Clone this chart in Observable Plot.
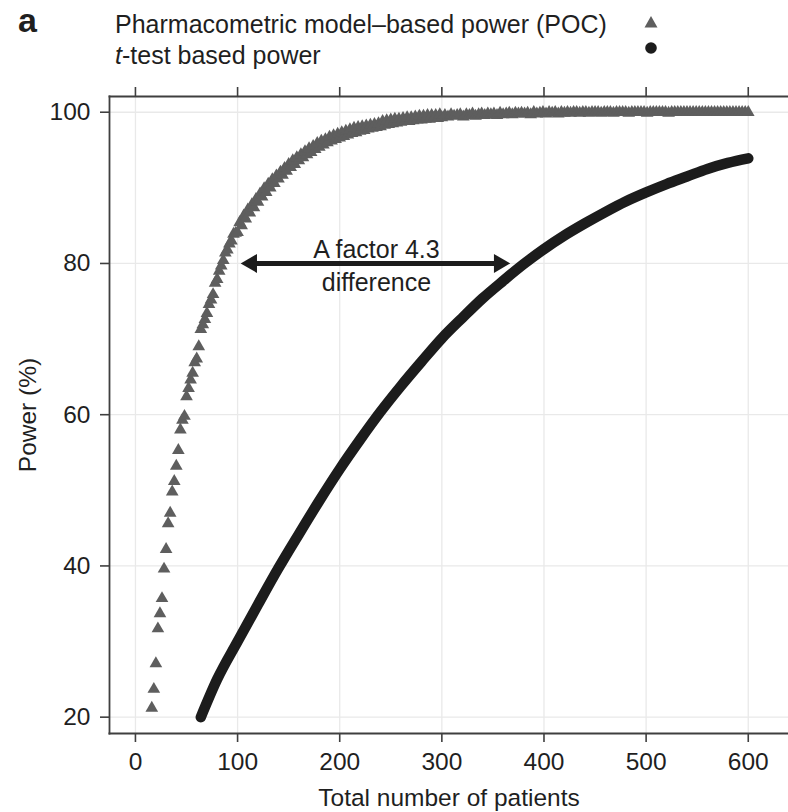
<!DOCTYPE html>
<html>
<head>
<meta charset="utf-8">
<script src="https://cdn.jsdelivr.net/npm/d3@7"></script>
<script src="https://cdn.jsdelivr.net/npm/@observablehq/plot@0.6"></script>
<style>
  html, body { margin: 0; padding: 0; background: #fff; }
  #wrap { position: relative; width: 788px; height: 812px; font-family: "Liberation Sans", Arial, Helvetica, sans-serif; color: #1f1f1f; }
  #legend { position: relative; width: 788px; height: 70px; }
  .lab { position: absolute; white-space: nowrap; line-height: 1; }
  #panel { left: 18px; top: 3px; font-size: 34px; font-weight: bold; }
  #l1 { left: 115px; top: 12px; font-size: 25px; }
  #l2 { left: 115px; top: 43px; font-size: 25px; }
  #sym { position: absolute; left: 640px; top: 12px; }
  #chart svg { display: block; }
</style>
</head>
<body>
<div id="wrap">
  <div id="legend">
    <div class="lab" id="panel">a</div>
    <div class="lab" id="l1">Pharmacometric model–based power (POC)</div>
    <div class="lab" id="l2"><i>t</i>-test based power</div>
    <svg id="sym" width="24" height="46">
      <polygon points="11,4 17.5,15.5 4.5,15.5" fill="#5e5e5e"></polygon>
      <circle cx="11" cy="36" r="5.8" fill="#1c1c1c"></circle>
    </svg>
  </div>
  <div id="chart"></div>
</div>
<script>
// ---- Data ----
const xTicks = [0, 100, 200, 300, 400, 500, 600];
const yTicks = [20, 40, 60, 80, 100];

// Pharmacometric model-based power (POC), triangles
const pocN = [
  16, 18, 20, 22, 24, 26, 28, 30, 32, 34, 36, 38, 40, 42, 44, 46, 48, 50, 52, 54,
  56, 58, 60, 62, 64, 66, 68, 70, 72, 74, 76, 78, 80, 82, 84, 86, 88, 90, 92, 94, 96, 98,
  100, 102, 104, 106, 108, 110, 112, 114, 116, 118, 120, 122, 124, 126, 128, 130, 132, 134, 136, 138,
  140, 142, 144, 146, 148, 150, 152, 154, 156, 158, 160, 162, 164, 166, 168, 170, 172, 174, 176, 178,
  180, 182, 184, 186, 188, 190, 192, 194, 196, 198, 200, 202, 204, 206, 208, 210, 212, 214, 216, 218,
  220, 222, 224, 226, 228, 230, 232, 234, 236, 238, 240, 242, 244, 246, 248, 250, 252, 254, 256, 258,
  260, 262, 264, 266, 268, 270, 272, 274, 276, 278, 280, 282, 284, 286, 288, 290, 292, 294, 296, 298, 300,
  303, 306, 309, 312, 315, 318, 321, 324, 327, 330, 333, 336, 339, 342, 345, 348, 351, 354, 357, 360,
  363, 366, 369, 372, 375, 378, 381, 384, 387, 390, 393, 396, 399, 402, 405, 408, 411, 414, 417, 420,
  423, 426, 429, 432, 435, 438, 441, 444, 447, 450, 453, 456, 459, 462, 465, 468, 471, 474, 477, 480,
  483, 486, 489, 492, 495, 498, 501, 504, 507, 510, 513, 516, 519, 522, 525, 528, 531, 534, 537, 540,
  543, 546, 549, 552, 555, 558, 561, 564, 567, 570, 573, 576, 579, 582, 585, 588, 591, 594, 597, 600
];
const pocPower = [
  21.2, 23.7, 27.1, 31.7, 33.7, 35.7, 39.6, 42.2, 45.6, 47.0, 49.8, 51.2, 53.2, 55.3, 58.0, 59.3, 59.8, 62.4, 63.5, 64.6,
  65.5, 66.9, 67.4, 69.0, 71.3, 71.9, 72.6, 73.4, 74.6, 75.2, 75.9, 77.4, 77.9, 79.0, 79.7, 80.4, 81.4, 81.8, 82.6, 83.0, 83.9, 84.0,
  84.1, 85.4, 85.0, 86.3, 85.9, 87.1, 86.7, 87.8, 87.4, 88.5, 88.1, 89.2, 88.8, 89.9, 89.4, 90.5, 90.0, 91.1, 90.6, 91.6,
  91.2, 92.1, 91.7, 92.6, 92.2, 93.1, 92.7, 93.6, 93.1, 94.0, 93.6, 94.4, 94.0, 94.8, 94.4, 95.2, 94.7, 95.5, 95.1, 95.9,
  95.4, 96.2, 95.7, 96.4, 96.0, 96.7, 96.2, 96.9, 96.4, 97.1, 96.6, 97.3, 96.8, 97.5, 97.0, 97.7, 97.2, 97.9, 97.3, 98.0,
  97.5, 98.1, 97.6, 98.2, 97.8, 98.3, 97.9, 98.4, 98.0, 98.5, 98.1, 98.8, 98.3, 98.9, 98.4, 99.0, 98.5, 99.1, 98.6, 99.1,
  98.7, 99.2, 98.8, 99.3, 98.8, 99.3, 98.9, 99.4, 99.0, 99.5, 99.0, 99.5, 99.1, 99.6, 99.1, 99.6, 99.2, 99.6, 99.2, 99.7, 99.3,
  99.6, 99.4, 99.7, 99.5, 99.6, 99.7, 99.4, 99.7, 99.6, 99.8, 99.5, 99.7, 99.8, 99.6, 99.8, 99.7, 99.8, 99.6, 99.9, 99.7,
  99.8, 99.9, 99.7, 99.9, 99.8, 99.9, 99.8, 99.9, 99.7, 100, 99.8, 99.9, 100, 99.8, 100, 99.9, 100, 99.8, 100, 99.9,
  100, 99.9, 100, 100, 99.9, 100, 100, 99.9, 100, 100, 100, 99.9, 100, 100, 100, 99.9, 100, 100, 100, 100,
  99.9, 100, 100, 100, 100, 100, 99.9, 100, 100, 100, 100, 100, 100, 99.9, 100, 100, 100, 100, 100, 100,
  100, 100, 100, 100, 100, 100, 100, 100, 100, 100, 100, 100, 100, 100, 100, 100, 100, 100, 100, 100
];

// t-test based power, circles (dense band)
const tN = [64, 80, 100, 120, 140, 160, 180, 200, 220, 240, 260, 280, 300, 320, 340, 360, 380, 400, 420, 440, 460, 480, 500, 520, 540, 560, 580, 600];
const tPower = [20.0, 25.0, 30.0, 34.9, 39.7, 44.2, 48.6, 52.8, 56.7, 60.4, 63.8, 67.0, 70.1, 72.8, 75.4, 77.7, 79.9, 81.9, 83.7, 85.3, 86.8, 88.2, 89.4, 90.5, 91.5, 92.5, 93.3, 93.9];

// Annotation: double arrow at 80% power
const arrowX = [103, 367];
const arrowY = [80, 80];
const annoX = [236];
const annoY = [80];
const annoText = ["A factor 4.3\ndifference"];

// ---- Build tables ----
const poc = pocN.map((n, i) => ({n, p: pocPower[i]}));
const tt = tN.map((n, i) => ({n, p: tPower[i]}));
const anno = annoX.map((x, i) => ({x, y: annoY[i], t: annoText[i]}));

const gridColor = "#e9e9e9";
const frameColor = "#3f3f3f";

const chart = Plot.plot({
  width: 788,
  height: 742,
  marginTop: 26,
  marginBottom: 79,
  marginLeft: 109,
  marginRight: 0,
  x: {domain: [-25.4, 639.4]},
  y: {domain: [17.84, 102.08]},
  style: {fontFamily: "'Liberation Sans', Arial, Helvetica, sans-serif", color: "#1f1f1f", background: "white", overflow: "visible"},
  marks: [
    Plot.gridX(xTicks, {stroke: gridColor, strokeOpacity: 1, strokeWidth: 1.3}),
    Plot.gridY(yTicks, {stroke: gridColor, strokeOpacity: 1, strokeWidth: 1.3}),
    Plot.line(tt, {x: "n", y: "p", stroke: "#1c1c1c", strokeWidth: 10.5, strokeLinecap: "round", strokeLinejoin: "round", curve: "monotone-x"}),
    Plot.dot(poc, {x: "n", y: "p", symbol: "triangle", r: 4.7, fill: "#5e5e5e", stroke: "none"}),
    Plot.ruleY(arrowY.slice(0, 1), {x1: arrowX[0], x2: arrowX[1], stroke: "#1c1c1c", strokeWidth: 5, insetLeft: 14, insetRight: 14}),
    Plot.dot([{x: arrowX[0], y: arrowY[0]}], {x: "x", y: "y", symbol: "triangle", r: 7, rotate: -90, dx: 10.9, fill: "#1c1c1c", stroke: "none"}),
    Plot.dot([{x: arrowX[1], y: arrowY[1]}], {x: "x", y: "y", symbol: "triangle", r: 7, rotate: 90, dx: -10.9, fill: "#1c1c1c", stroke: "none"}),
    Plot.text(anno, {x: "x", y: "y", text: "t", fontSize: 25, lineHeight: 1.32, lineAnchor: "middle", fill: "#1f1f1f"}),
    Plot.frame({anchor: "top", stroke: frameColor, strokeWidth: 1.8}),
    Plot.frame({anchor: "left", stroke: frameColor, strokeWidth: 1.8}),
    Plot.frame({anchor: "bottom", stroke: frameColor, strokeWidth: 2}),
    Plot.axisX({anchor: "top", ticks: xTicks, tickSize: 10, tickFormat: () => "", label: null, stroke: frameColor, strokeWidth: 1.6}),
    Plot.axisX({anchor: "bottom", ticks: xTicks, tickSize: 9, tickPadding: 10, fontSize: 24.5, stroke: frameColor, strokeWidth: 1.6,
      label: "Total number of patients", labelAnchor: "center", labelOffset: 72, labelArrow: "none"}),
    Plot.axisY({anchor: "left", ticks: yTicks, tickSize: 9, tickPadding: 10, fontSize: 24.5, stroke: frameColor, strokeWidth: 1.6,
      label: "Power (%)", labelAnchor: "center", labelOffset: 91, labelArrow: "none"})
  ]
});
document.getElementById("chart").appendChild(chart);
</script>
</body>
</html>
